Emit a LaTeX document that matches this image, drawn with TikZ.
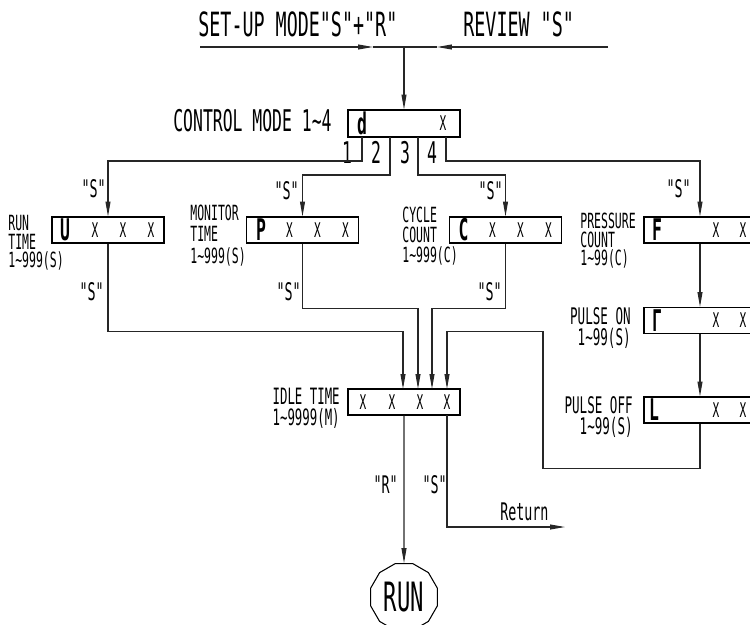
\documentclass[tikz,border=0pt]{standalone}
\usepackage{fontspec}
\newfontfamily\cadfam[FakeStretch=0.55]{DejaVu Sans Mono}
\newcommand{\cadbig}{\cadfam\fontsize{19pt}{20pt}\selectfont}
\newcommand{\cadctl}{\cadfam\fontsize{17pt}{18pt}\selectfont}
\newcommand{\cadmid}{\cadfam\fontsize{13.8pt}{15pt}\selectfont}
\newcommand{\cadx}{\cadfam\fontsize{11.5pt}{12pt}\selectfont}
\newcommand{\cadseg}{\cadfam\bfseries\fontsize{17pt}{18pt}\selectfont}
\newcommand{\cadrun}{\cadfam\fontsize{23pt}{24pt}\selectfont}
\usetikzlibrary{arrows.meta, shapes.geometric}
\tikzset{
  disp/.style={draw=black, line width=0.6pt, inner sep=0pt, minimum width=2.24cm, minimum height=0.52cm},
  wire/.style={draw=black!85, line width=0.6pt},
  flow/.style={wire, -{Triangle[length=8.5pt, width=2.8pt]}},
  seg/.style={font=\cadseg, inner sep=0pt},
  digx/.style={font=\cadx, inner sep=0pt},
  key/.style={font=\cadmid, inner sep=0pt, anchor=base east},
  head/.style={font=\cadbig, inner sep=0pt, anchor=base west},
  num/.style={font=\cadctl, inner sep=0pt, anchor=base},
  lblk/.style={font={\cadfam\fontsize{11.9pt}{#1}\selectfont}, align=left, inner sep=0pt, anchor=north west},
  lblk/.default=11pt,
  rblk/.style={font={\cadfam\fontsize{13pt}{#1}\selectfont}, align=right, inner sep=0pt, anchor=north east},
}

\begin{document}
\begin{tikzpicture}[x=0.02cm, y=-0.02cm]
  \useasboundingbox (0,0) rectangle (750,625);
  \clip (0,0) rectangle (750,625);

  % entry from the two key combinations
  \node[head] (setlbl) at (198,37) {SET-UP MODE"S"+"R"};
  \node[head] (revlbl) at (463,37) {REVIEW "S"};
  \coordinate (setL) at (200,47);
  \coordinate (setT) at (373,47);
  \coordinate (join) at (404,47);
  \coordinate (revT) at (437,47);
  \coordinate (revR) at (608,47);

  % displays
  \node[disp, minimum height=0.54cm] (ctrl) at (404,123.5) {};
  \node[seg] at (362,123) {d};
  \node[digx] at (443,123.5) {X};
  \node[head, font=\cadctl] (ctrllbl) at (173,132) {CONTROL MODE 1\textasciitilde4};

  \node[disp] (run) at (108,230) {};
  \node[seg] at (65,230) {U};
  \node[digx] at (95,230) {X};
  \node[digx] at (123,230) {X};
  \node[digx] at (151,230) {X};

  \node[disp] (mon) at (302.5,230) {};
  \node[seg] at (261,230) {P};
  \node[digx] at (289.5,230) {X};
  \node[digx] at (317.5,230) {X};
  \node[digx] at (345.5,230) {X};

  \node[disp] (cyc) at (505.5,230) {};
  \node[seg] at (463.5,230) {C};
  \node[digx] at (492.5,230) {X};
  \node[digx] at (520.5,230) {X};
  \node[digx] at (548.5,230) {X};

  \node[disp] (press) at (700,230) {};
  \node[seg] at (657,230) {F};
  \node[digx] at (716,230) {X};
  \node[digx] at (743,230) {X};

  \node[disp] (pon) at (700,320.5) {};
  \node[seg] at (657,320.5) {Γ};
  \node[digx] at (716,320.5) {X};
  \node[digx] at (743,320.5) {X};

  \node[disp] (poff) at (700,410) {};
  \node[seg] at (654,410) {L};
  \node[digx] at (716,410) {X};
  \node[digx] at (743,410) {X};

  \node[disp] (idle) at (404,402) {};
  \node[digx] at (363,402) {X};
  \node[digx] at (392,402) {X};
  \node[digx] at (420,402) {X};
  \node[digx] at (447,402) {X};

  \node[regular polygon, regular polygon sides=12, draw=black, line width=0.6pt,
        minimum size=1.38cm, inner sep=0pt, font=\cadrun] (runend) at (404,597) {RUN};

  % labels
  \node[lblk=10.5pt] (runlbl) at (8,215) {RUN\\TIME\\1\textasciitilde999(S)};
  \node[lblk=12pt] (monlbl) at (190,205) {MONITOR\\TIME\\1\textasciitilde999(S)};
  \node[lblk=11.3pt] (cyclbl) at (402,207) {CYCLE\\COUNT\\1\textasciitilde999(C)};
  \node[lblk=10.5pt] (presslbl) at (580,213) {PRESSURE\\COUNT\\1\textasciitilde99(C)};
  \node[rblk=12.2pt] (ponlbl) at (631,307) {PULSE ON\\1\textasciitilde99(S)};
  \node[rblk=12.2pt] (pofflbl) at (633,396) {PULSE OFF\\1\textasciitilde99(S)};
  \node[rblk=12pt, font={\cadfam\fontsize{12.8pt}{12pt}\selectfont}]
    (idlelbl) at (340,388) {IDLE TIME\\1\textasciitilde9999(M)};

  \node[num] at (347,163) {1};
  \node[num] at (376,163) {2};
  \node[num] at (405,163) {3};
  \node[num] at (432,163) {4};

  \node[key] at (106,197) {"S"};
  \node[key] at (299,199) {"S"};
  \node[key] at (503,199) {"S"};
  \node[key] at (691,197) {"S"};
  \node[key] at (104,300) {"S"};
  \node[key] at (301,300) {"S"};
  \node[key] at (502,300) {"S"};
  \node[key] at (398,493) {"R"};
  \node[key] at (447,493) {"S"};
  \node[font=\cadmid, inner sep=0pt, anchor=base west] (retlbl) at (500,520) {Return};

  % connectors
  \draw[flow] (setL) -- (setT);
  \draw[wire] (setT) -- (revT);
  \draw[flow] (revR) -- (revT);
  \draw[flow] (join) -- (ctrl.north);

  \coordinate (m1) at (362,137);
  \coordinate (m2) at (390,137);
  \coordinate (m3) at (418,137);
  \coordinate (m4) at (446,137);
  \draw[flow] (m1) -- ++(0,24) -| (run.north);
  \draw[flow] (m2) -- ++(0,38) -| (mon.north);
  \draw[flow] (m3) -- ++(0,38) -| (cyc.north);
  \draw[flow] (m4) -- ++(0,24) -| (press.north);

  \draw[flow] (press.south) -- (pon.north);
  \draw[flow] (pon.south) -- (poff.north);

  \coordinate (i1) at (403,389);
  \coordinate (i2) at (418,389);
  \coordinate (i3) at (432,389);
  \coordinate (i4) at (447,389);
  \draw[flow] (run.south) -- ++(0,88) -| (i1);
  \draw[flow] (mon.south) -- ++(0,65) -| (i2);
  \draw[flow] (cyc.south) -- ++(0,65) -| (i3);
  \draw[flow] (poff.south) -- ++(0,45) -- ++(-157,0) -- ++(0,-137) -| (i4);

  \coordinate (o2) at (447,415);
  \coordinate (ret) at (565,527);
  \draw[flow] (idle.south) -- (runend.north);
  \draw[flow] (o2) |- (ret);
\end{tikzpicture}
\end{document}
